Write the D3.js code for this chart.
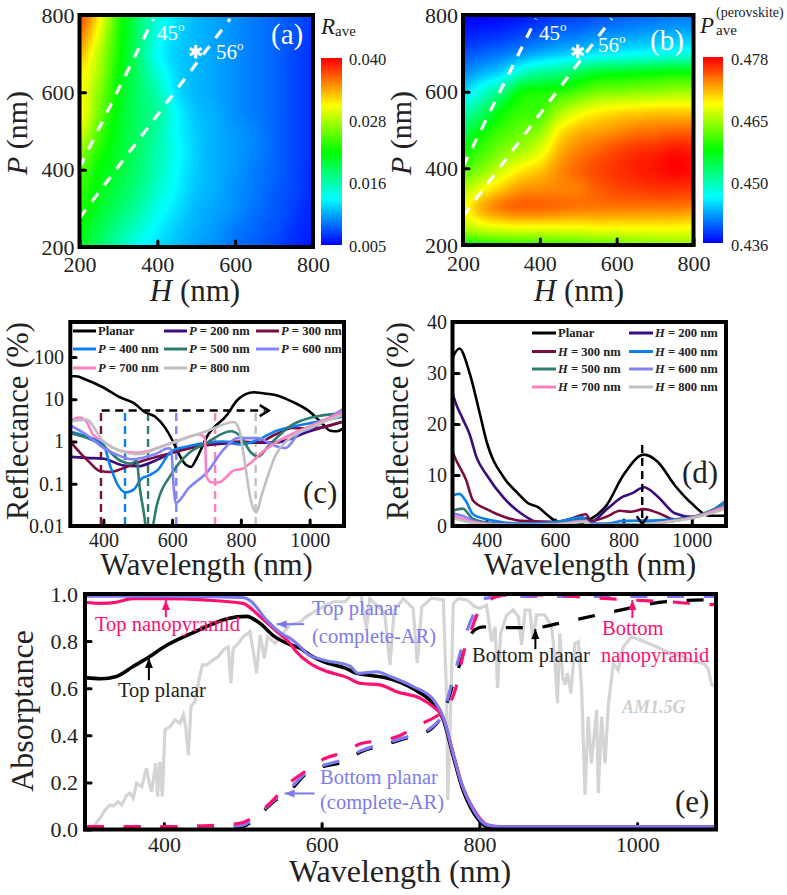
<!DOCTYPE html>
<html><head><meta charset="utf-8">
<script src="https://cdn.jsdelivr.net/npm/d3@7"></script>
<style>html,body{margin:0;padding:0;background:#fff}svg{display:block}text{font-family:"Liberation Serif",serif;fill:#222}</style>
</head><body><svg id="c" width="787" height="895"></svg>
<script>
// ---------- heat-map readings: position on the colour bar (0 bottom .. 1 top)
// one row per H (200..800 step 50), one entry per P (200..800 step 50)
const heatH = d3.range(200, 801, 50);
const heatP = d3.range(200, 801, 50);
const rAveLevels = [
 [.47,.49,.52,.55,.58,.64,.72,.76,.76,.77,.82,.88,.93],
 [.40,.43,.46,.48,.50,.53,.57,.61,.63,.66,.68,.72,.76],
 [.33,.36,.40,.43,.45,.46,.47,.48,.49,.50,.52,.53,.55],
 [.26,.30,.34,.37,.39,.40,.40,.40,.40,.40,.39,.40,.40],
 [.22,.24,.27,.30,.32,.33,.34,.35,.33,.29,.26,.27,.29],
 [.19,.20,.22,.24,.25,.26,.25,.25,.22,.21,.20,.21,.22],
 [.16,.17,.18,.19,.20,.20,.20,.19,.18,.18,.18,.18,.18],
 [.14,.15,.16,.17,.17,.17,.17,.17,.16,.16,.16,.16,.16],
 [.11,.12,.14,.14,.15,.15,.15,.14,.14,.14,.14,.14,.14],
 [.09,.10,.11,.12,.12,.13,.13,.12,.12,.12,.12,.12,.12],
 [.07,.08,.09,.09,.10,.10,.10,.10,.10,.10,.10,.10,.10],
 [.04,.05,.06,.07,.07,.07,.07,.07,.07,.07,.07,.08,.08],
 [.02,.03,.03,.04,.04,.05,.05,.05,.05,.05,.05,.05,.06]];
const pPeroLevels = [
 [.50,.68,.74,.66,.58,.50,.42,.33,.22,.14,.08,.03,.00],
 [.52,.72,.83,.74,.63,.56,.50,.40,.30,.18,.10,.04,.00],
 [.54,.74,.88,.80,.70,.62,.56,.50,.38,.22,.12,.05,.01],
 [.55,.75,.90,.85,.76,.66,.60,.55,.50,.31,.15,.07,.02],
 [.56,.75,.90,.86,.80,.72,.64,.56,.52,.36,.18,.09,.04],
 [.57,.75,.89,.87,.86,.82,.76,.66,.54,.38,.20,.11,.06],
 [.58,.75,.88,.88,.90,.87,.82,.72,.58,.43,.22,.12,.07],
 [.59,.76,.88,.91,.93,.90,.84,.76,.62,.47,.24,.14,.08],
 [.60,.76,.88,.93,.95,.93,.86,.78,.63,.48,.25,.15,.09],
 [.62,.76,.88,.94,.97,.95,.88,.79,.64,.49,.26,.16,.10],
 [.63,.76,.88,.95,.98,.96,.89,.80,.65,.50,.27,.17,.11],
 [.64,.76,.88,.95,1.0,.98,.90,.80,.66,.51,.28,.18,.12],
 [.65,.75,.87,.95,.99,.97,.90,.80,.66,.51,.29,.18,.12]];
const colorStops = ["#0000ff","#00ffff","#00ff00","#ffff00","#ff0000"];
const rAveTicks = ["0.005","0.016","0.028","0.040"];
const pPeroTicks = ["0.436","0.450","0.465","0.478"];
const gridTicks = [200,400,600,800];
const line45H = [200,390], line45P = [405,790];
const line56H = [200,587], line56P = [275,790];
const optimumH = [500], optimumP = [705];

// ---------- panel (c) reflectance vs wavelength for each P
const cPlanarW=[300,320,350,400,450,490,520,550,580,600,620,640,655,670,702,760,790,838,860,900,949,1000,1040,1060,1080,1100];
const cPlanarR=[35,35,29,19,11,8,5,3.9,2.1,1.1,.5,.28,.25,.38,1.33,4.3,9.6,14.6,14,12.6,8.8,5.1,2.5,1.8,1.75,2.1];
const cP200W=[300,350,400,460,500,550,600,700,800,900,1000,1100];
const cP200R=[.44,.41,.39,.27,.26,.35,.54,.82,.93,.95,1.75,3];
const cP300W=[300,320,360,390,420,450,500,530,600,700,800,850,900,950,1000,1100];
const cP300R=[1.1,.7,.32,.2,.19,.22,.32,.38,.54,.85,1,.95,1.46,2.1,2,3];
const cP400W=[300,350,400,420,440,465,490,510,530,560,590,600,650,700,750,800,850,900,1000,1100];
const cP400R=[1.75,1.33,.85,.26,.1,.062,.075,.13,.154,.22,.5,.6,.78,.93,1,.85,1.1,1.75,2.7,3.9];
const cP500W=[300,400,450,480,497,505,520,525,540,555,600,650,700,770,800,830,850,880,950,1000,1100];
const cP500R=[1.6,.78,.35,.3,.35,.09,.015,.007,.008,.03,.18,.54,.93,1.75,1.3,.54,.44,.78,2.5,3.6,4.7];
const cP600W=[300,350,400,450,480,550,590,597,605,610,650,700,750,790,850,900,930,970,1000,1100];
const cP600R=[2.5,1.46,.71,.45,.38,.5,.69,.65,.075,.035,.082,.18,.65,1.2,1.2,.78,.7,1.6,2,6.1];
const cP700W=[300,330,350,370,400,450,500,600,680,695,700,715,735,760,780,800,830,860,900,1000,1100];
const cP700R=[3,3.7,3,1.46,1,.6,.54,.93,1.46,1.2,.15,.107,.107,.15,.21,.22,.32,.54,.93,2.3,5.1];
const cP800W=[300,350,400,450,500,560,600,700,780,795,810,830,845,860,900,950,1000,1100];
const cP800R=[3,3.3,1,.6,.5,.7,.93,1.75,2.9,1.9,.38,.037,.021,.052,.45,1.33,2.1,4.3];
const cLegend=["Planar","200","300","400","500","600","700","800"];
const cMarkerW=[393,463,530,612,725,843];
const cTicksY=[0.01,0.1,1,10,100];
const cTickLabelsY=["0.01","0.1","1","10","100"];
const wlTicks=[400,600,800,1000];

// ---------- panel (d) reflectance vs wavelength for each H
const dPlanarW=[300,320,350,380,400,450,490,520,550,580,600,620,650,700,750,800,860,900,950,1000,1050,1100];
const dPlanarR=[33,34.8,30,22,16.5,9.5,6.5,4.5,3.7,2,1,.5,.25,1.2,4,10,14,12.6,8,4.4,2,2];
const dH200W=[300,310,330,350,370,400,450,500,550,600,650,690,705,753,800,825,860,900,950,1000,1050,1100];
const dH200R=[26,24,21,18,13.5,10,5.5,2.5,.8,.7,1,1.5,.8,3.4,5.8,6.4,7.6,5.8,2.5,1.8,2.5,4];
const dH300W=[300,310,340,360,400,450,500,600,650,690,705,750,790,820,860,900,950,1000,1050,1100];
const dH300R=[14.5,13,9,5,3.3,1.8,1,.8,1.5,2.3,1,1.8,3,2.8,3.3,2.6,1.3,1.7,2.5,3.5];
const dH400W=[300,320,340,360,400,450,500,600,680,700,750,800,900,1000,1050,1100];
const dH400R=[6,6.3,4.8,2.3,1.3,.7,.5,.8,1.7,.6,.5,1,1.1,1.7,2.7,5];
const dH500W=[300,330,360,400,500,600,690,705,800,900,1000,1100];
const dH500R=[3,3.4,1.4,.7,.3,.5,1.2,.3,.3,.7,1.7,4.3];
const dH600W=[300,340,360,400,500,600,690,705,800,900,1000,1100];
const dH600R=[2.5,1.7,1,.5,.2,.4,1,.2,.2,.6,1.6,4];
const dH700W=[300,360,400,500,600,690,705,800,900,1000,1100];
const dH700R=[2,.8,.4,.2,.3,.9,.2,.2,.6,1.6,3.8];
const dH800W=[300,360,400,500,600,690,705,800,900,1000,1100];
const dH800R=[1.5,.6,.3,.2,.3,.8,.2,.2,.6,1.5,3.4];
const dLegend=["Planar","200","300","400","500","600","700","800"];
const dTicksY=[0,10,20,30,40];
const dMarkerW=[855];

// ---------- panel (e) absorptance
const amW=[300,310.6,319,325.4,331.7,336,342,346.5,353,357,361,365.5,372,378,382.4,384.5,389.6,392,395,398,401.4,407.8,414,420.4,424.7,427.6,431,434.4,439.5,443.7,448.8,454,462.7,469,475.4,481.7,485,488,494.4,500.7,509,513.4,517.6,522,527.4,531.6,541,560,572.6,581,602,615,630,637,650,657,661,672,680,686.7,692,703.6,716,721.3,727,739.5,754.3,758.5,760,762.7,767,773.3,784,794.4,800.8,809,815.6,820,823,827,834.6,843,849.4,853.6,858,864,868,872.6,883,891.6,896,899,902,905.6,908.5,911.5,916,921.2,925.5,929.7,933.9,938,942,948.7,950.8,955,959.3,963.5,969.8,976,982.5,993,1003.6,1024.8,1041.7,1058.6,1071,1084,1090,1094.5,1100];
const amA=[0,.01,.048,.083,.104,.1,.118,.104,.147,.154,.132,.196,.182,.26,.182,.161,.281,.14,.288,.14,.423,.437,.465,.451,.486,.437,.316,.522,.543,.621,.699,.699,.72,.734,.762,.776,.621,.769,.79,.819,.84,.755,.663,.826,.727,.819,.79,.87,.88,.905,.946,.967,.967,.996,.996,.85,.98,.946,.918,.699,.932,.98,.939,.706,.946,.982,.975,.557,.125,.4,.96,.98,.975,.946,.939,.953,.798,.861,.6,.833,.911,.932,.904,.784,.932,.932,.805,.911,.911,.861,.713,.536,.833,.649,.614,.663,.578,.79,.798,.592,.147,.479,.281,.508,.154,.479,.281,.529,.706,.677,.776,.819,.805,.776,.748,.734,.713,.706,.684,.614,.607];
const topPlanarW=[300,320,340,360,380,400,440,460,480,505,520,540,560,572.6,585,602,630,644.5,660,680,700,720,740,754,767,778,793,810,825,850,1100];
const topPlanarA=[.645,.64,.65,.69,.73,.775,.84,.87,.895,.905,.88,.82,.785,.77,.741,.713,.685,.663,.655,.645,.625,.59,.54,.47,.31,.18,.07,.012,.006,.006,.006];
const topArW=[300,400,500,510,530,550,560,570,581,602,636,646.5,670,686.7,716,742,754,767,778,793,810,825,850,1100];
const topArA=[.99,.99,.985,.97,.89,.83,.812,.785,.748,.72,.694,.663,.67,.65,.607,.55,.48,.32,.19,.08,.018,.012,.012,.012];
const topNanoW=[300,320,340,360,400,450,500,520,540,560,568,585,602,632,648.6,674,695,725,740,754,767,778,793,810,825,850,1100];
const topNanoA=[.965,.96,.965,.98,.98,.975,.96,.91,.85,.79,.755,.706,.677,.646,.621,.614,.585,.557,.525,.475,.32,.19,.085,.02,.012,.012,.012];
const botPlanarW=[300,480,500,510,540,560,580,600,630,650,680,700,720,740,755,765,775,785,795,805,830,870,902,948,995,1037,1092,1100];
const botPlanarA=[.006,.006,.012,.03,.12,.165,.235,.265,.29,.33,.36,.38,.4,.43,.5,.6,.7,.8,.85,.86,.857,.857,.876,.91,.943,.968,.975,.975];
const botArW=[300,480,500,510,540,560,580,600,630,650,680,700,720,740,755,765,775,785,795,805,830,1100];
const botArA=[.012,.012,.018,.035,.125,.175,.24,.27,.3,.335,.365,.385,.405,.435,.5,.62,.74,.85,.93,.98,.99,.99];
const botNanoW=[300,400,450,480,500,510,540,555,585,600,630,650,680,700,720,745,760,770,780,790,800,830,880,940,990,1050,1090,1100];
const botNanoA=[.012,.012,.016,.02,.03,.045,.13,.185,.26,.295,.33,.365,.38,.4,.44,.48,.52,.6,.75,.85,.93,.995,.996,.985,.975,.965,.955,.955];
const eTicksY=[0,.2,.4,.6,.8,1];

const seriesColors=["#000000","#3c0a82","#7a0c3e","#0a80f0","#2e7c70","#8282ff","#ff80c0","#c0c0c0"];
const ePink="#ff1070", ePeri="#7c7af2", eGray="#d4d4d4";

const svg=d3.select("#c");
svg.append("rect").attr("width",787).attr("height",895).attr("fill","#fff");
let clipId=0;

function frame(g,x,y){
  const [x0,x1]=x.range(), [y0,y1]=y.range();
  g.append("rect").attr("x",x0).attr("y",y1).attr("width",x1-x0).attr("height",y0-y1)
   .attr("fill","none").attr("stroke","#000").attr("stroke-width",4);
}
function clip(g,x,y){
  const id="clip"+(++clipId), [x0,x1]=x.range(), [y0,y1]=y.range();
  g.append("clipPath").attr("id",id).append("rect").attr("x",x0).attr("y",y1).attr("width",x1-x0).attr("height",y0-y1);
  return g.append("g").attr("clip-path",`url(#${id})`);
}
function axes(g,x,y,xt,yt,o){
  const ax=g.append("g").attr("transform",`translate(0,${o.yB})`)
    .call(d3.axisBottom(x).tickValues(xt).tickSizeOuter(0).tickSizeInner(-6).tickPadding(o.xPad).tickFormat(o.xFmt||d3.format("d")));
  const ay=g.append("g").attr("transform",`translate(${o.xL},0)`)
    .call(d3.axisLeft(y).tickValues(yt).tickSizeOuter(0).tickSizeInner(-6).tickPadding(o.yPad).tickFormat(o.yFmt||d3.format("d")));
  [ax,ay].forEach(a=>{
    a.select(".domain").remove();
    a.selectAll("line").attr("stroke","#000").attr("stroke-width",3).attr("stroke-linecap","round");
    a.selectAll("text").attr("font-size",o.size).attr("font-family","Liberation Serif").attr("fill","#222");
  });
}
function txt(g,x,y,s,size,o={}){
  const t=g.append("text").attr("x",x).attr("y",y).attr("font-size",size).text(s);
  if(o.fill) t.style("fill",o.fill);
  if(o.anchor) t.attr("text-anchor",o.anchor);
  if(o.style) t.attr("font-style",o.style);
  if(o.weight) t.attr("font-weight",o.weight);
  if(o.rot) t.attr("transform",`rotate(-90 ${x} ${y})`);
  return t;
}
function mixedTitle(g,x,y,italic,rest,size,rot){
  const t=g.append("text").attr("x",x).attr("y",y).attr("font-size",size).attr("text-anchor","middle");
  if(rot) t.attr("transform",`rotate(-90 ${x} ${y})`);
  t.append("tspan").attr("font-style","italic").text(italic);
  t.append("tspan").text(rest);
}
function arrow(g,x1,y1,x2,y2,color,w=2,head=5){
  g.append("line").attr("x1",x1).attr("y1",y1).attr("x2",x2).attr("y2",y2).attr("stroke",color).attr("stroke-width",w);
  const a=Math.atan2(y2-y1,x2-x1);
  const p=[[x2,y2],[x2-head*2*Math.cos(a)+head*.8*Math.sin(a),y2-head*2*Math.sin(a)-head*.8*Math.cos(a)],
           [x2-head*2*Math.cos(a)-head*.8*Math.sin(a),y2-head*2*Math.sin(a)+head*.8*Math.cos(a)]];
  g.append("path").attr("d",d3.line()(p)+"Z").attr("fill",color);
}

// ---- heat maps
function cr(p0,p1,p2,p3,t){return .5*(2*p1+(p2-p0)*t+(2*p0-5*p1+4*p2-p3)*t*t+(3*p1-p0-3*p2+p3)*t*t*t);}
function sampler(levels){
  const n=levels.length, m=levels[0].length, c=(v,k)=>Math.max(0,Math.min(k-1,v));
  return (h,p)=>{
    const u=(h-heatH[0])/(heatH[1]-heatH[0]), v=(p-heatP[0])/(heatP[1]-heatP[0]);
    const i=Math.min(n-2,Math.floor(u)), j=Math.min(m-2,Math.floor(v)), tu=u-i, tv=v-j, col=[];
    for(let a=-1;a<=2;a++){
      const row=levels[c(i+a,n)];
      col.push(cr(row[c(j-1,m)],row[c(j,m)],row[c(j+1,m)],row[c(j+2,m)],tv));
    }
    return Math.max(0,Math.min(1,cr(col[0],col[1],col[2],col[3],tu)));
  };
}
const jet=d3.scaleLinear().domain([0,.25,.5,.75,1]).range(colorStops).interpolate(d3.interpolateRgb);

function heat(o){
  const g=svg.append("g");
  const x=d3.scaleLinear().domain([200,800]).range(o.xr), y=d3.scaleLinear().domain([200,800]).range(o.yr);
  const s=sampler(o.levels), body=clip(g,x,y);
  const stepH=600/(Math.abs(o.xr[1]-o.xr[0])/2), stepP=600/(Math.abs(o.yr[0]-o.yr[1])/2);
  const cells=[];
  d3.range(200,800,stepH).forEach(h=>d3.range(200,800,stepP).forEach(p=>cells.push([h,p])));
  body.selectAll("rect.cell").data(cells).join("rect").attr("class","cell")
    .attr("x",d=>x(d[0])).attr("y",d=>y(d[1]+stepP)).attr("width",2.6).attr("height",2.6)
    .attr("fill",d=>jet(s(d[0]+stepH/2,d[1]+stepP/2))).attr("shape-rendering","crispEdges");
  const ln=d3.line().x(d=>x(d[0])).y(d=>y(d[1]));
  [[line45H,line45P],[line56H,line56P]].forEach(([a,b])=>{
    body.append("path").attr("d",ln(d3.zip(a,b))).attr("fill","none").attr("stroke","#fff").attr("stroke-width",3.2).attr("stroke-dasharray","10.5 10");
  });
  body.selectAll("path.star").data(d3.zip(optimumH,optimumP)).join("path").attr("class","star")
    .attr("transform",d=>`translate(${x(d[0])-0.5},${y(d[1])})`)
    .attr("d",d3.symbol(d3.symbolAsterisk,130)).attr("fill","none").attr("stroke","#fff").attr("stroke-width",3.2);
  axes(g,x,y,gridTicks,gridTicks,{yB:o.yr[0],xL:o.xr[0],xPad:o.xPad,yPad:5,size:22});
  frame(g,x,y);
  mixedTitle(g,o.titleX,300.5,"H"," (nm)",31);
  mixedTitle(g,o.titleP,133,"P"," (nm)",30,true);
  const deg=(xx,yy,s)=>{const t=g.append("text").attr("x",xx).attr("y",yy).attr("font-size",21).style("fill","#fff");
    t.append("tspan").text(s);t.append("tspan").attr("dy",-9).attr("font-size",13).text("o");};
  deg(o.a45[0],o.a45[1],"45"); deg(o.a56[0],o.a56[1],"56");
  txt(g,o.tag[0],o.tag[1],o.tagText,29,{fill:"#fff"});
  // colour bar
  const b=d3.scaleLinear().domain([0,1]).range(o.barY);
  const rows=d3.range(0,1,1/93);
  g.selectAll("rect.bar").data(rows).join("rect").attr("class","bar")
   .attr("x",o.barX[0]).attr("width",o.barX[1]-o.barX[0]).attr("y",d=>b(d+1/93)).attr("height",Math.abs(o.barY[0]-o.barY[1])/93+.6)
   .attr("fill",d=>jet(d+1/186)).attr("shape-rendering","crispEdges");
  const lab=d3.scaleLinear().domain([0,3]).range(o.labY);
  g.selectAll("text.bl").data(o.ticks).join("text").attr("class","bl")
   .attr("x",o.labX).attr("y",(d,i)=>lab(i)).attr("dy","0.34em").attr("font-size",16.5).text(d=>d);
  return g;
}
const ga=heat({levels:rAveLevels,xr:[79.5,313],yr:[247,15],xPad:9,titleX:195,titleP:27,a45:[157,40],a56:[216,59],tag:[271,44],tagText:"(a)",
  barX:[321,342],barY:[244,58],ticks:rAveTicks,labX:349,labY:[246,59.5]});
txt(ga,321,34,"R",23,{style:"italic"}); txt(ga,335,36,"ave",15);
const gb=heat({levels:pPeroLevels,xr:[463,693.5],yr:[245,15],xPad:10,titleX:579,titleP:411,a45:[539,40],a56:[598,52],tag:[650,50],tagText:"(b)",
  barX:[703,723],barY:[242,57],ticks:pPeroTicks,labX:731,labY:[245,59]});
txt(gb,700,33,"P",23,{style:"italic"}); txt(gb,716,35,"ave",15); txt(gb,716,17,"(perovskite)",14);

// ---- (c)
(function(){
  const g=svg.append("g");
  const x=d3.scaleLinear().domain([300,1100]).range([69,344]);
  const y=d3.scaleLog().domain([0.01,674]).range([526,322]);
  axes(g,x,y,wlTicks,cTicksY,{yB:526,xL:70,xPad:7,yPad:6,size:20,yFmt:(d,i)=>cTickLabelsY[i]});
  const body=clip(g,x,y);
  cMarkerW.forEach((w,i)=>body.append("line").attr("x1",x(w)).attr("x2",x(w)).attr("y1",y(4.7)).attr("y2",y(.01))
    .attr("stroke",seriesColors[i+2]).attr("stroke-width",2.4).attr("stroke-dasharray","8 5"));
  const ln=d3.line().x(d=>x(d[0])).y(d=>y(d[1])).curve(d3.curveMonotoneX);
  [[cPlanarW,cPlanarR],[cP200W,cP200R],[cP300W,cP300R],[cP400W,cP400R],[cP500W,cP500R],[cP600W,cP600R],[cP700W,cP700R],[cP800W,cP800R]]
   .forEach((s,i)=>body.append("path").attr("d",ln(d3.zip(s[0],s[1]))).attr("fill","none").attr("stroke",seriesColors[i]).attr("stroke-width",2.6));
  // horizontal arrow
  body.append("line").attr("x1",x(395)).attr("x2",x(870)).attr("y1",y(5.4)).attr("y2",y(5.4)).attr("stroke","#000").attr("stroke-width",2.4).attr("stroke-dasharray","8 5.5");
  const ax=x(881), ay=y(5.4);
  body.append("path").attr("d",d3.line()([[ax-9,ay-5.5],[ax,ay],[ax-9,ay+5.5]])).attr("fill","none").attr("stroke","#000").attr("stroke-width",2.6);
  // legend
  const rowsY=[331,349,368], colsX=[73,164,256];
  cLegend.forEach((s,i)=>{
    const cx=colsX[i%3], cy=rowsY[Math.floor(i/3)];
    g.append("line").attr("x1",cx).attr("x2",cx+23).attr("y1",cy).attr("y2",cy).attr("stroke",seriesColors[i]).attr("stroke-width",3);
    const t=g.append("text").attr("x",cx+25).attr("y",cy+4.2).attr("font-size",12.6).attr("font-weight","bold");
    if(i===0) t.text(s); else {t.append("tspan").attr("font-style","italic").text("P"); t.append("tspan").text(" = "+s+" nm");}
  });
  frame(g,d3.scaleLinear().range([70.3,344]),d3.scaleLinear().range([526,322]));
  txt(g,303,503,"(c)",31);
  txt(g,206.5,575,"Wavelength (nm)",30.6,{anchor:"middle"});
  txt(g,28,421,"Reflectance (%)",30.6,{anchor:"middle",rot:true});
})();

// ---- (d)
(function(){
  const g=svg.append("g");
  const x=d3.scaleLinear().domain([300,1100]).range([452.5,726]);
  const y=d3.scaleLinear().domain([0,40]).range([526,322]);
  axes(g,x,y,wlTicks,dTicksY,{yB:526,xL:453,xPad:7,yPad:6,size:20});
  const body=clip(g,x,y);
  const ln=d3.line().x(d=>x(d[0])).y(d=>y(d[1])).curve(d3.curveMonotoneX);
  [[dPlanarW,dPlanarR],[dH200W,dH200R],[dH300W,dH300R],[dH400W,dH400R],[dH500W,dH500R],[dH600W,dH600R],[dH700W,dH700R],[dH800W,dH800R]]
   .forEach((s,i)=>body.append("path").attr("d",ln(d3.zip(s[0],s[1]))).attr("fill","none").attr("stroke",seriesColors[i]).attr("stroke-width",2.6));
  dMarkerW.forEach(w=>{
    body.append("line").attr("x1",x(w)).attr("x2",x(w)).attr("y1",y(15.9)).attr("y2",y(1.5)).attr("stroke","#000").attr("stroke-width",2.4).attr("stroke-dasharray","8 5");
    body.append("path").attr("d",d3.line()([[x(w)-5.5,y(1.9)],[x(w),y(.4)],[x(w)+5.5,y(1.9)]])).attr("fill","none").attr("stroke","#000").attr("stroke-width",2.4);
  });
  const rowsY=[333,351.5,369,387], colsX=[532,629];
  dLegend.forEach((s,i)=>{
    const cx=colsX[i%2], cy=rowsY[Math.floor(i/2)];
    g.append("line").attr("x1",cx).attr("x2",cx+24).attr("y1",cy).attr("y2",cy).attr("stroke",seriesColors[i]).attr("stroke-width",3);
    const t=g.append("text").attr("x",cx+26).attr("y",cy+4.2).attr("font-size",12.6).attr("font-weight","bold");
    if(i===0) t.text(s); else {t.append("tspan").attr("font-style","italic").text("H"); t.append("tspan").text(" = "+s+" nm");}
  });
  frame(g,x,y);
  txt(g,682,483,"(d)",31);
  txt(g,590,575,"Wavelength (nm)",30.6,{anchor:"middle"});
  txt(g,408,421,"Reflectance (%)",30.6,{anchor:"middle",rot:true});
})();

// ---- (e)
(function(){
  const g=svg.append("g");
  const x=d3.scaleLinear().domain([300,1100]).range([85,716]);
  const y=d3.scaleLinear().domain([0,1]).range([829.5,594]);
  axes(g,x,y,wlTicks,eTicksY,{yB:829.5,xL:85,xPad:7,yPad:7,size:22,yFmt:d3.format(".1f")});
  const body=clip(g,x,y);
  const ln=d3.line().x(d=>x(d[0])).y(d=>y(d[1])).curve(d3.curveMonotoneX);
  const raw=d3.line().x(d=>x(d[0])).y(d=>y(d[1]));
  body.append("path").attr("d",raw(d3.zip(amW,amA))).attr("fill","none").attr("stroke",eGray).attr("stroke-width",3.2);
  const draw=(w,a,c,sw,dash)=>{
    const p=body.append("path").attr("d",ln(d3.zip(w,a))).attr("fill","none").attr("stroke",c).attr("stroke-width",sw);
    if(dash) p.attr("stroke-dasharray","17 19.7").attr("stroke-dashoffset",-2);
  };
  draw(botPlanarW,botPlanarA,"#000",3.2,true);
  draw(botArW,botArA,ePeri,3.2,true);
  draw(botNanoW,botNanoA,ePink,3.2,true);
  draw(topPlanarW,topPlanarA,"#000",3.6);
  draw(topNanoW,topNanoA,ePink,3.2);
  draw(topArW,topArA,ePeri,3);
  // annotation arrows, in data units
  arrow(g,x(402.5),y(.902),x(402.5),y(.974),ePink);
  arrow(g,x(381),y(.634),x(381),y(.728),"#000");
  arrow(g,x(578),y(.872),x(543),y(.872),ePeri);
  arrow(g,x(591),y(.153),x(553),y(.153),ePeri);
  arrow(g,x(871),y(.766),x(871),y(.851),"#000");
  arrow(g,x(994),y(.898),x(994),y(.974),ePink);
  txt(g,95,631,"Top nanopyramid",20.5,{fill:ePink});
  txt(g,118,697,"Top planar",20.5);
  txt(g,312,615,"Top planar",20.5,{fill:ePeri});
  txt(g,312,643,"(complete-AR)",20.5,{fill:ePeri});
  txt(g,320,784,"Bottom planar",20.5,{fill:ePeri});
  txt(g,320,809,"(complete-AR)",20.5,{fill:ePeri});
  txt(g,472,662,"Bottom planar",20.5);
  txt(g,602,635,"Bottom",20.5,{fill:ePink});
  txt(g,601,662,"nanopyramid",20.5,{fill:ePink});
  txt(g,622,713,"AM1.5G",18,{fill:"#cfcfcf",style:"italic",weight:"bold"});
  frame(g,x,y);
  txt(g,675,812,"(e)",31);
  txt(g,400,882,"Wavelength (nm)",32,{anchor:"middle"});
  txt(g,33,711,"Absorptance",32,{anchor:"middle",rot:true});
})();
</script></body></html>
